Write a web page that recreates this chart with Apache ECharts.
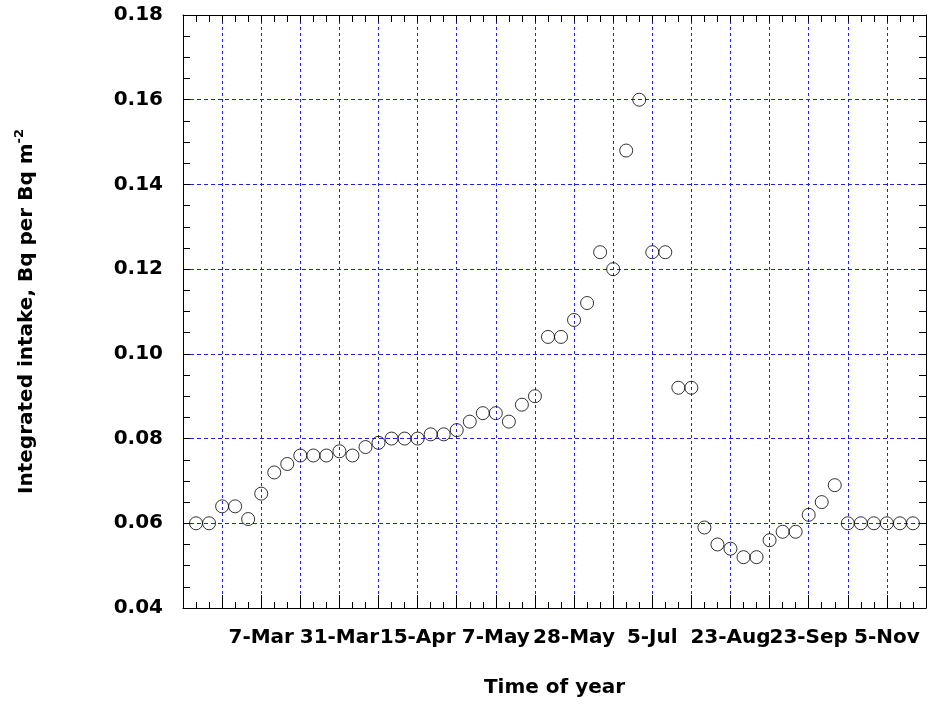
<!DOCTYPE html>
<html>
<head>
<meta charset="utf-8">
<script src="https://cdn.jsdelivr.net/npm/echarts@6/dist/echarts.min.js"></script>
<style>
  html, body { margin: 0; padding: 0; background: #fff; }
  #main { width: 929px; height: 713px; }
</style>
</head>
<body>
<div id="main"></div>
<script>
// one sample per minor x tick, starting at tick 1
const intake = [
    0.060, 0.060, 0.064, 0.064, 0.061, 0.067, 0.072, 0.074, 0.076, 0.076,
    0.076, 0.077, 0.076, 0.078, 0.079, 0.080, 0.080, 0.080, 0.081, 0.081,
    0.082, 0.084, 0.086, 0.086, 0.084, 0.088, 0.090, 0.104, 0.104, 0.108,
    0.112, 0.124, 0.120, 0.148, 0.160, 0.124, 0.124, 0.092, 0.092, 0.059,
    0.055, 0.054, 0.052, 0.052, 0.056, 0.058, 0.058, 0.062, 0.065, 0.069,
    0.060, 0.060, 0.060, 0.060, 0.060, 0.060
];
// date labels sit on every 6th tick
const dateLabels = ['7-Mar', '31-Mar', '15-Apr', '7-May', '28-May', '5-Jul', '23-Aug', '23-Sep', '5-Nov'];
const labelEvery = 6;
const tickCount = 57;

const font = 'DejaVu Sans';
const gridBlue = '#2020ee';

const points = intake.map((v, i) => [i + 1, v]);

const chart = echarts.init(document.getElementById('main'));
const option = {
    animation: false,
    backgroundColor: '#fff',
    grid: { left: 183, right: 2, top: 15, bottom: 105 },
    xAxis: [
        {
            type: 'value',
            position: 'bottom',
            min: 0,
            max: tickCount,
            interval: 3,
            axisLine: { show: true, onZero: false, lineStyle: { color: '#000', width: 1 } },
            axisTick: { show: true, inside: true, length: 13, lineStyle: { color: '#000' } },
            minorTick: { show: true, splitNumber: 3, length: 6, lineStyle: { color: '#000' } },
            splitLine: { show: true, lineStyle: { color: gridBlue, type: [3, 3], width: 1 } },
            axisLabel: {
                margin: 20,
                color: '#000',
                fontFamily: font,
                fontWeight: 'bold',
                fontSize: 20,
                showMinLabel: true,
                showMaxLabel: true,
                formatter: function (v) {
                    if (v > 0 && v % labelEvery === 0) {
                        return dateLabels[v / labelEvery - 1] || '';
                    }
                    return '';
                }
            },
            name: 'Time of year',
            nameLocation: 'middle',
            nameGap: 70,
            nameTextStyle: { color: '#000', fontFamily: font, fontWeight: 'bold', fontSize: 20 }
        },
        {
            type: 'value',
            position: 'top',
            min: 0,
            max: tickCount,
            interval: 3,
            axisLine: { show: true, onZero: false, lineStyle: { color: '#000', width: 1 } },
            axisTick: { show: true, inside: true, length: 7, lineStyle: { color: '#000' } },
            minorTick: { show: true, splitNumber: 3, length: 7, lineStyle: { color: '#000' } },
            splitLine: { show: false },
            axisLabel: { show: false }
        }
    ],
    yAxis: [
        {
            type: 'value',
            position: 'left',
            min: 0.04,
            max: 0.18,
            interval: 0.02,
            axisLine: { show: true, onZero: false, lineStyle: { color: '#000', width: 1 } },
            axisTick: { show: true, inside: true, length: 7, lineStyle: { color: '#000' } },
            minorTick: { show: true, splitNumber: 4, length: 7, lineStyle: { color: '#000' } },
            splitLine: { show: true, lineStyle: { color: gridBlue, type: [4, 3], width: 1 } },
            axisLabel: {
                margin: 20,
                color: '#000',
                fontFamily: font,
                fontWeight: 'bold',
                fontSize: 20,
                formatter: v => v.toFixed(2)
            },
            name: '{a|Integrated intake, Bq per Bq m}{s|-2}',
            nameLocation: 'middle',
            nameRotate: 90,
            nameGap: 142,
            nameTextStyle: {
                color: '#000',
                rich: {
                    a: { fontFamily: font, fontWeight: 'bold', fontSize: 20, lineHeight: 28, color: '#000' },
                    s: { fontFamily: font, fontWeight: 'bold', fontSize: 13, verticalAlign: 'top', color: '#000' }
                }
            }
        },
        {
            type: 'value',
            position: 'right',
            min: 0.04,
            max: 0.18,
            interval: 0.02,
            axisLine: { show: true, onZero: false, lineStyle: { color: '#000', width: 1 } },
            axisTick: { show: true, inside: true, length: 7, lineStyle: { color: '#000' } },
            minorTick: { show: true, splitNumber: 4, length: 7, lineStyle: { color: '#000' } },
            splitLine: { show: false },
            axisLabel: { show: false }
        }
    ],
    series: [
        {
            type: 'scatter',
            xAxisIndex: 0,
            yAxisIndex: 0,
            data: points,
            symbol: 'circle',
            symbolSize: 13,
            itemStyle: { color: 'rgba(255,255,255,0)', borderColor: '#000', borderWidth: 1 }
        }
    ]
};
chart.setOption(option);
</script>
</body>
</html>
